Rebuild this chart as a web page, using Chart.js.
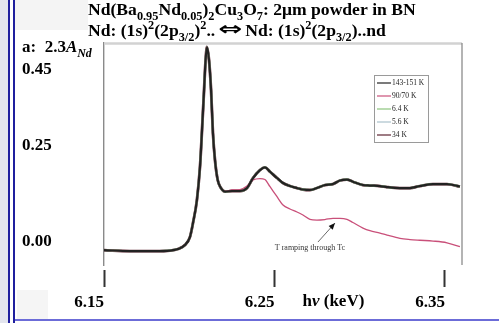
<!DOCTYPE html>
<html>
<head>
<meta charset="utf-8">
<script src="https://cdn.jsdelivr.net/npm/chart.js@4.4.0/dist/chart.umd.min.js"></script>
<style>
  body { margin: 0; background: #fff; }
  #frame { position: relative; width: 499px; height: 323px; overflow: hidden; background: #fff; }
  .deco { position: absolute; }
  canvas { position: absolute; left: 0; top: 0; }
</style>
</head>
<body>
<div id="frame">
  <div class="deco" style="left:0;top:0;width:8px;height:323px;background:#e3e5ee"></div>
  <div class="deco" style="left:8px;top:0;width:2px;height:323px;background:#1f1f9e"></div>
  <div class="deco" style="left:13px;top:0;width:2px;height:323px;background:#1f1f9e"></div>
  <div class="deco" style="left:15px;top:0;width:73px;height:30px;background:#f4f4f4"></div>
  <div class="deco" style="left:17px;top:290px;width:31px;height:29px;background:#f5f5f5"></div>
  <div class="deco" style="left:15px;top:319px;width:484px;height:2px;background:#6c6cd8"></div>
  <canvas id="myChart" width="499" height="323"></canvas>
</div>
<script>
// photon energy (keV)
var energy = [6.15, 6.1652, 6.1799, 6.1887, 6.1934, 6.1975, 6.2004, 6.2022, 6.2045, 6.2063,
  6.2075, 6.2087, 6.2096, 6.2104, 6.2116, 6.2128, 6.2139, 6.2151, 6.2167, 6.2186,
  6.2210, 6.2251, 6.2298, 6.2339, 6.2374, 6.2415, 6.2444, 6.2474, 6.2515, 6.2550,
  6.2591, 6.2632, 6.2667, 6.2708, 6.2749, 6.2796, 6.2843, 6.2884, 6.2925, 6.2960,
  6.3019, 6.3060, 6.3119, 6.3160, 6.3236, 6.3295, 6.3353, 6.3430, 6.3512, 6.3588];

// upper curve (143-151 K, the low T scans lie on top of it)
var absHigh = [-0.0220, -0.0246, -0.0246, -0.0233, -0.0193, -0.0089, 0.0120, 0.0486, 0.1087, 0.1950,
  0.2917, 0.3962, 0.4746, 0.5086, 0.4746, 0.3962, 0.2838, 0.2133, 0.1610, 0.1401,
  0.1309, 0.1323, 0.1323, 0.1401, 0.1662, 0.1871, 0.1942, 0.1827, 0.1662, 0.1532,
  0.1453, 0.1401, 0.1362, 0.1349, 0.1401, 0.1479, 0.1505, 0.1597, 0.1623, 0.1566,
  0.1479, 0.1466, 0.1453, 0.1427, 0.1401, 0.1401, 0.1453, 0.1505, 0.1505, 0.1440];

// lower curve (90/70 K, T ramping through Tc)
var absRamp = [-0.0220, -0.0246, -0.0246, -0.0233, -0.0193, -0.0089, 0.0120, 0.0486, 0.1087, 0.1950,
  0.2917, 0.3962, 0.4746, 0.5086, 0.4746, 0.3962, 0.2838, 0.2133, 0.1610, 0.1401,
  0.1320, 0.1349, 0.1362, 0.1453, 0.1610, 0.1649, 0.1623, 0.1435, 0.1174, 0.0957,
  0.0852, 0.0774, 0.0695, 0.0583, 0.0565, 0.0578, 0.0609, 0.0609, 0.0583, 0.0499,
  0.0355, 0.0285, 0.0225, 0.0173, 0.0086, 0.0055, 0.0037, 0.0016, -0.0029, -0.0133];

var seriesNames = ['143-151 K', '90/70 K', '6.4 K', '5.6 K', '34 K'];
var seriesColors = ['#222222', '#c9507a', '#8cc47c', '#a9c2cc', '#5e2632'];
var seriesWidths = [2.2, 1.3, 2, 2, 2.8];

var xTicks = [6.15, 6.25, 6.35];
var yTicks = [0, 0.25, 0.45];
var yTickLabels = ['0.00', '0.25', '0.45'];

var noteText = 'T ramping through Tc';
var noteAt = {x: 6.2708, y: -0.0167};
var arrowFrom = {x: 6.2755, y: -0.001};
var arrowTo = {x: 6.2855, y: 0.0486};

var serif = '"Liberation Serif", "Times New Roman", serif';

function pts(vals) {
  return energy.map(function (e, i) { return {x: e, y: vals[i]}; });
}

var curves = [absHigh, absRamp, absHigh, absHigh, absHigh];
var datasets = seriesNames.map(function (name, i) {
  return {
    label: name,
    data: pts(curves[i]),
    borderColor: seriesColors[i],
    borderWidth: seriesWidths[i],
    pointRadius: 0,
    cubicInterpolationMode: 'monotone',
    fill: false
  };
});

// writes a line made of plain / sub / sup / italic / symbol pieces
function richLine(ctx, parts, x, y, size) {
  parts.forEach(function (p) {
    var txt = p[0], kind = p[1] || '';
    if (kind === 'sym') {
      ctx.save();
      ctx.font = 'bold ' + (size * 1.05) + 'px "DejaVu Sans"';
      var sw = ctx.measureText(txt).width;
      ctx.translate(x + 3, y - 1);
      ctx.scale(1.55, 1);
      ctx.fillText(txt, 0, 0);
      ctx.restore();
      x += sw * 1.55 + 6;
      return;
    }
    var fs = size, dy = 0;
    if (kind.indexOf('sub') >= 0) { fs = size * 0.7; dy = size * 0.28; }
    if (kind.indexOf('sup') >= 0) { fs = size * 0.7; dy = -size * 0.38; }
    var style = kind.indexOf('it') >= 0 ? 'italic bold ' : 'bold ';
    ctx.font = style + fs + 'px ' + serif;
    ctx.fillText(txt, x, y + dy);
    x += ctx.measureText(txt).width;
  });
}

var textPlugin = {
  id: 'slideText',
  afterDraw: function (chart) {
    var ctx = chart.ctx;
    ctx.save();
    ctx.fillStyle = '#000';
    ctx.textAlign = 'left';
    ctx.textBaseline = 'alphabetic';
    richLine(ctx, [['Nd(Ba'], ['0.95', 'sub'], ['Nd'], ['0.05', 'sub'], [')'], ['2', 'sub'],
      ['Cu'], ['3', 'sub'], ['O'], ['7', 'sub'], [': 2\u03bcm powder in BN']], 88, 15, 17.6);
    richLine(ctx, [['Nd: (1s)'], ['2', 'sup'], ['(2p'], ['3/2', 'sub'], [')'], ['2', 'sup'],
      ['..'], ['\u21d4', 'sym'], ['Nd: (1s)'], ['2', 'sup'], ['(2p'], ['3/2', 'sub'], [')..nd']], 88, 36, 17.6);
    richLine(ctx, [['a:  2.3'], ['A', 'it'], ['Nd', 'it sub']], 22, 52, 17);
    var xs = chart.scales.x;
    richLine(ctx, [['h'], ['\u03bd', 'it'], [' (keV)']], xs.getPixelForValue(6.25) + 28, 306, 17);
    ctx.restore();
  }
};

var boxPlugin = {
  id: 'plotBox',
  beforeDatasetsDraw: function (chart) {
    var ctx = chart.ctx, a = chart.chartArea;
    ctx.save();
    ctx.strokeStyle = '#d2d2d2';
    ctx.lineWidth = 2.5;
    ctx.beginPath();
    ctx.moveTo(a.left, a.top + 0.5);
    ctx.lineTo(a.right, a.top + 0.5);
    ctx.stroke();
    ctx.strokeStyle = '#8c8c8c';
    ctx.lineWidth = 1.3;
    ctx.beginPath();
    ctx.moveTo(a.right, a.top);
    ctx.lineTo(a.right, a.bottom);
    ctx.stroke();
    ctx.restore();
  }
};

var legendPlugin = {
  id: 'insetLegend',
  afterDatasetsDraw: function (chart) {
    var ctx = chart.ctx, a = chart.chartArea;
    var bx = a.right - 88, by = a.top + 32, w = 54, h = 67;
    ctx.save();
    ctx.fillStyle = '#fff';
    ctx.fillRect(bx, by, w, h);
    ctx.strokeStyle = '#9a9a9a';
    ctx.lineWidth = 1;
    ctx.strokeRect(bx + 0.5, by + 0.5, w, h);
    ctx.font = '7.5px ' + serif;
    ctx.textBaseline = 'middle';
    chart.data.datasets.forEach(function (ds, i) {
      var y = by + 8 + i * 13;
      ctx.strokeStyle = ds.borderColor;
      ctx.lineWidth = 1.2;
      ctx.beginPath();
      ctx.moveTo(bx + 3, y);
      ctx.lineTo(bx + 17, y);
      ctx.stroke();
      ctx.fillStyle = '#222';
      ctx.fillText(ds.label, bx + 18, y);
    });
    ctx.restore();
  }
};

var notePlugin = {
  id: 'rampNote',
  afterDatasetsDraw: function (chart) {
    var ctx = chart.ctx, xs = chart.scales.x, ys = chart.scales.y;
    var x0 = xs.getPixelForValue(arrowFrom.x), y0 = ys.getPixelForValue(arrowFrom.y);
    var x1 = xs.getPixelForValue(arrowTo.x), y1 = ys.getPixelForValue(arrowTo.y);
    var ang = Math.atan2(y1 - y0, x1 - x0);
    ctx.save();
    ctx.strokeStyle = '#444';
    ctx.fillStyle = '#111';
    ctx.lineWidth = 0.8;
    ctx.beginPath();
    ctx.moveTo(x0, y0);
    ctx.lineTo(x1, y1);
    ctx.stroke();
    ctx.beginPath();
    ctx.moveTo(x1, y1);
    ctx.lineTo(x1 - 7 * Math.cos(ang - 0.4), y1 - 7 * Math.sin(ang - 0.4));
    ctx.lineTo(x1 - 7 * Math.cos(ang + 0.4), y1 - 7 * Math.sin(ang + 0.4));
    ctx.closePath();
    ctx.fill();
    ctx.font = '8px ' + serif;
    ctx.fillStyle = '#333';
    ctx.textAlign = 'center';
    ctx.textBaseline = 'middle';
    ctx.fillText(noteText, xs.getPixelForValue(noteAt.x), ys.getPixelForValue(noteAt.y));
    ctx.restore();
  }
};

var ctx = document.getElementById('myChart').getContext('2d');
var myChart = new Chart(ctx, {
  type: 'line',
  data: { datasets: datasets },
  options: {
    responsive: false,
    animation: false,
    devicePixelRatio: 1,
    layout: { padding: { top: 43, right: 37, left: 22, bottom: 0 } },
    plugins: {
      legend: { display: false },
      tooltip: { enabled: false },
      title: { display: false }
    },
    scales: {
      x: {
        type: 'linear',
        min: 6.15,
        max: 6.36,
        afterBuildTicks: function (s) { s.ticks = xTicks.map(function (v) { return {value: v}; }); },
        afterFit: function (s) { s.height = 58; },
        ticks: {
          align: 'end',
          padding: 5,
          color: '#000',
          font: { family: serif, size: 17, weight: 'bold' },
          callback: function (v) { return v.toFixed(2); }
        },
        grid: {
          drawOnChartArea: false,
          tickLength: 22,
          tickWidth: 2,
          tickColor: '#333',
          tickBorderDash: [0, 5, 17, 0]
        },
        border: { display: false }
      },
      y: {
        min: -0.061,
        max: 0.519,
        afterBuildTicks: function (s) { s.ticks = yTicks.map(function (v) { return {value: v}; }); },
        afterFit: function (s) { s.width = 82; },
        ticks: {
          crossAlign: 'far',
          color: '#000',
          font: { family: serif, size: 17, weight: 'bold' },
          callback: function (v, i) { return yTickLabels[i]; }
        },
        grid: { drawOnChartArea: false, drawTicks: false },
        border: { display: true, color: '#8a8a8a', width: 1.4 }
      }
    }
  },
  plugins: [boxPlugin, legendPlugin, notePlugin, textPlugin]
});
</script>
</body>
</html>
